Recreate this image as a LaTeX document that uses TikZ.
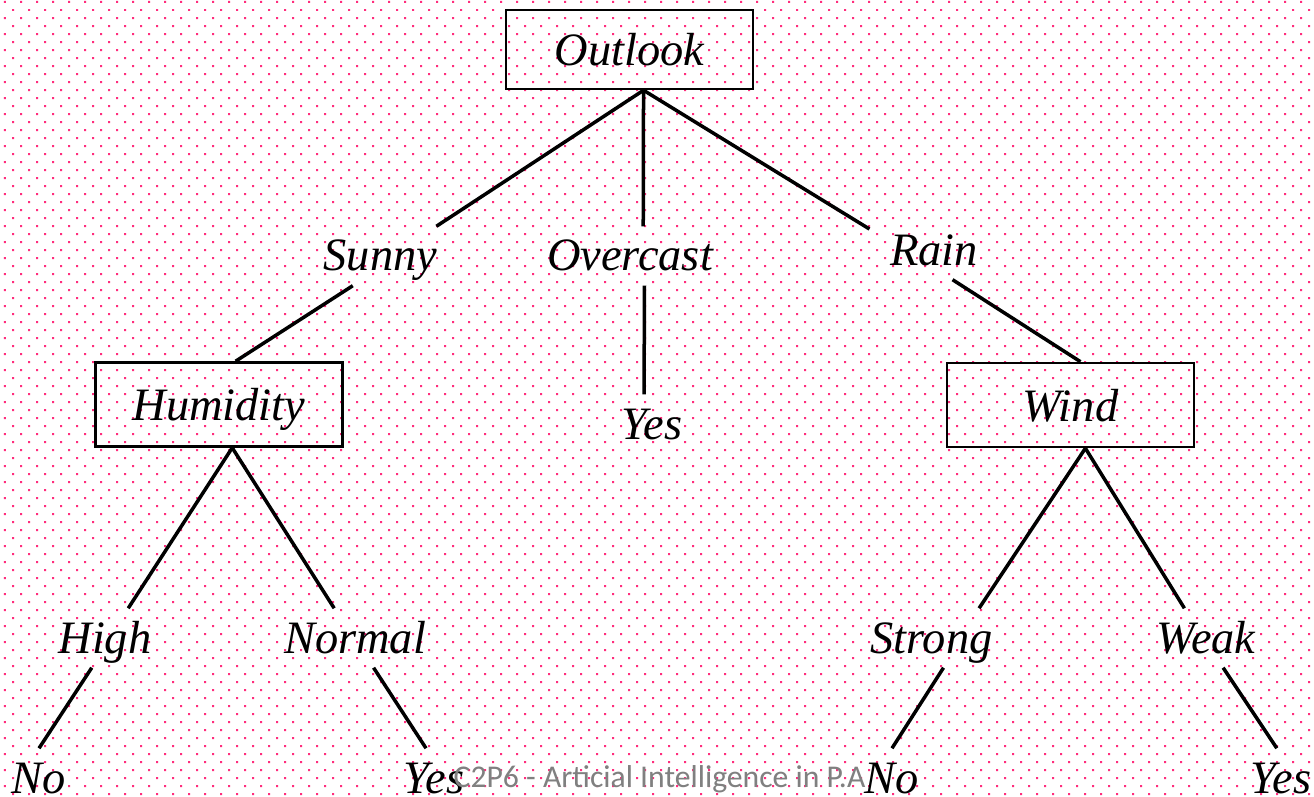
\documentclass[tikz,border=0pt]{standalone}
\usepackage{fontspec}
\setmainfont{Liberation Serif}
\newfontfamily\notefont{Carlito}
\usepackage{tikz}
\usetikzlibrary{positioning}
\definecolor{dotpink}{RGB}{255,45,125}
\definecolor{notegray}{RGB}{128,128,128}

\begin{document}
\begin{tikzpicture}[
    x=0.01cm, y=-0.01cm,
    % --- STYLES ---
    attr/.style={
        rectangle, draw=black, line width=0.025cm,
        minimum width=2.47cm, minimum height=0.84cm,
        font=\fontsize{13.2}{16}\selectfont\itshape,
        text height=0.32cm, text depth=0pt, inner sep=0pt
    },
    val/.style={
        font=\fontsize{13.2}{16}\selectfont\itshape,
        text height=0.40cm, text depth=0.10cm,
        inner sep=0.04cm, anchor=base
    },
    branch/.style={line width=0.035cm, black}
]

% ===== 1. PAGE & DOTTED BACKGROUND =====
\useasboundingbox (0,0) rectangle (1314,797);
\fill[white] (0,0) rectangle (1314,797);
\foreach \r in {0,...,49} {
    \fill[dotpink] \foreach \c in {0,...,81} {
        (4+16*\c, 1+16*\r) rectangle ++(2,2)
        (12+16*\c, 9+16*\r) rectangle ++(2,2)
    };
}

% ===== 2. ATTRIBUTE BOXES =====
\def\yMid{271}
\def\yLow{653}
\def\yLeaf{793}

\node[attr, minimum height=0.79cm] (outlook) at (629.5,49.5) {Outlook};
\node[attr] (humidity) at (219,404.5) {Humidity};
\node[attr] (wind) at (1070.5,405) {Wind};

% ===== 3. VALUES & LEAVES =====
\node[val] (sunny) at (380.5,\yMid) {Sunny};
\node[val] (overcast) at (630,\yMid) {Overcast};
\node[val, inner xsep=0.2cm] (rain) at (934,265) {Rain};
\node[val] (yes3) at (652,439) {Yes};

\node[val] (high) at (105,\yLow) {High};
\node[val] (normal) at (355,\yLow) {Normal};
\node[val] (strong) at (931.5,\yLow) {Strong};
\node[val] (weak) at (1206,\yLow) {Weak};

\node[val] (no1) at (39,\yLeaf) {No};
\node[val] (yes1) at (434,\yLeaf) {Yes};
\node[val] (no2) at (892,\yLeaf) {No};
\node[val] (yes2) at (1281,\yLeaf) {Yes};

% ===== 4. BRANCHES =====
\draw[branch] (outlook.-71) -- (sunny.28);
\draw[branch] (outlook.-71) -- (overcast.66);
\draw[branch] (outlook.-71) -- (rain.162);

\draw[branch] (sunny.-133) -- (humidity.69);
\draw[branch] (overcast.-64) -- (yes3.105);
\draw[branch] (rain.-58) -- (wind.77);

\draw[branch] (humidity.-73) -- (high.52);
\draw[branch] (humidity.-73) -- (normal.125);
\draw[branch] (wind.-71) -- (strong.32);
\draw[branch] (wind.-71) -- (weak.126);

\draw[branch] (high.-114) -- (no1.north);
\draw[branch] (normal.-58) -- (yes1.105);
\draw[branch] (strong.-68) -- (no2.north);
\draw[branch] (weak.-60) -- (yes2.98);

% footer note
\node[font=\notefont\fontsize{9}{11}\selectfont, text=notegray,
      anchor=base west, inner sep=0pt] (note) at (453,787)
      {C2P6 - Articial Intelligence in P.A};

\end{tikzpicture}
\end{document}
